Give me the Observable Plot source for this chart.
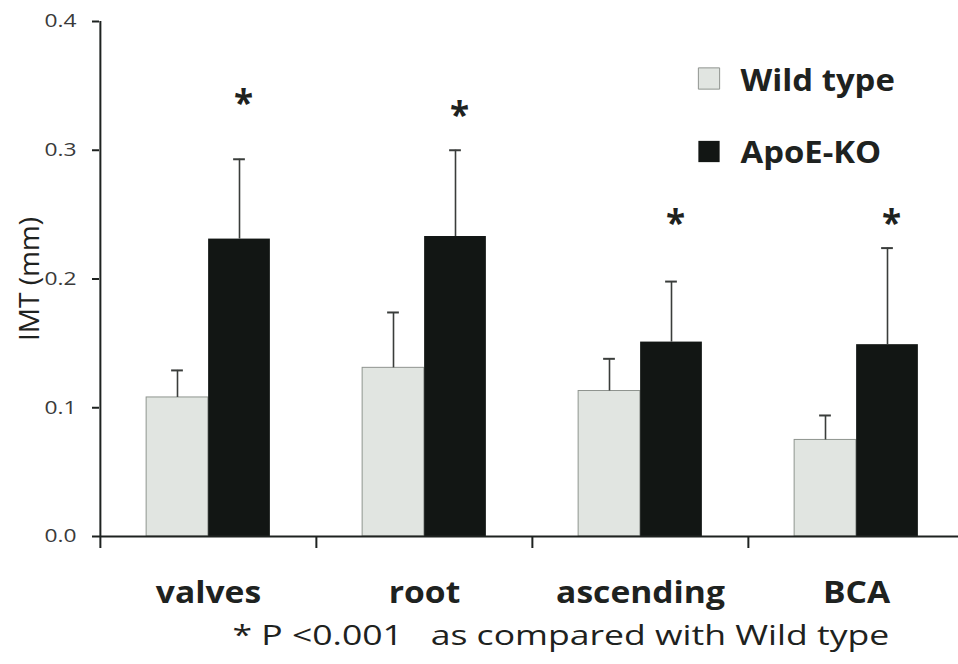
<!DOCTYPE html>
<html>
<head>
<meta charset="utf-8">
<script src="https://cdn.jsdelivr.net/npm/d3@7"></script>
<script src="https://cdn.jsdelivr.net/npm/@observablehq/plot@0.6"></script>
<style>
  html, body { margin: 0; padding: 0; background: #fff; }
  #chart { width: 958px; height: 664px; }
</style>
</head>
<body>
<div id="chart"></div>
<script>
// Intima-media thickness by aortic segment, mean + SD
const categories = ["valves", "root", "ascending", "BCA"];
const groups = ["Wild type", "ApoE-KO"];
const wildMean = [0.108, 0.131, 0.113, 0.075];
const wildSD   = [0.021, 0.043, 0.025, 0.019];
const koMean   = [0.231, 0.233, 0.151, 0.149];
const koSD     = [0.062, 0.067, 0.047, 0.075];
// height at which the significance asterisk sits, in mm
const starLevel = [0.343, 0.334, 0.250, 0.250];
const yTicks = [0, 0.1, 0.2, 0.3, 0.4];
const footnote = "* P <0.001   as compared with Wild type";

const wild = categories.map((c, i) => ({segment: c, mean: wildMean[i], sd: wildSD[i]}));
const ko = categories.map((c, i) => ({segment: c, mean: koMean[i], sd: koSD[i], star: starLevel[i]}));

const W = 958, H = 664;
const mL = 99, mR = -6;            // four bands of equal width, last one runs past the edge
const step = (W - mL - mR) / categories.length;
const half = step / 2;
const barW = 62, capW = 12;
const wildFill = "#e1e5e1", koFill = "#121614";
const ink = "#1e2220";
const labelFont = "'Open Sans', sans-serif";
const tickFmt = d3.format(".1f");

const chart = Plot.plot({
  width: W,
  height: H,
  marginLeft: mL,
  marginRight: mR,
  marginTop: 21,
  marginBottom: 128,
  style: {background: "#fff", overflow: "visible", fontFamily: labelFont},
  x: {domain: categories, padding: 0, axis: null},
  y: {domain: [0, 0.4], axis: null},
  marks: [
    // bars
    Plot.barY(wild, {x: "segment", y: "mean", fill: wildFill, stroke: "#8f948f", strokeWidth: 1,
      insetLeft: half - barW, insetRight: half}),
    Plot.barY(ko, {x: "segment", y: "mean", fill: koFill,
      insetLeft: half, insetRight: half - barW}),
    // error bars (upper half only)
    Plot.ruleX(wild, {x: "segment", y1: "mean", y2: d => d.mean + d.sd, dx: -barW / 2, stroke: "#3a3d3b", strokeWidth: 1.6}),
    Plot.tickY(wild, {x: "segment", y: d => d.mean + d.sd, stroke: "#3a3d3b", strokeWidth: 2,
      insetLeft: half - barW / 2 - capW / 2, insetRight: half + barW / 2 - capW / 2}),
    Plot.ruleX(ko, {x: "segment", y1: "mean", y2: d => d.mean + d.sd, dx: barW / 2, stroke: "#3a3d3b", strokeWidth: 1.6}),
    Plot.tickY(ko, {x: "segment", y: d => d.mean + d.sd, stroke: "#3a3d3b", strokeWidth: 2,
      insetLeft: half + barW / 2 - capW / 2, insetRight: half - barW / 2 - capW / 2}),
    // significance asterisks
    Plot.text(ko, {x: "segment", y: "star", text: () => "*", dx: barW / 2 + 4, dy: 9, lineAnchor: "middle",
      fontSize: 35, fontWeight: 700, fontFamily: labelFont, fill: ink}),
    // y axis: line, ticks, labels
    Plot.ruleX([categories[0]], {x: d => d, y1: 0.4, y2: 0, dx: -half, stroke: ink, strokeWidth: 2}),
    Plot.axisY({ticks: yTicks, tickFormat: () => "", tickSize: 7, stroke: ink, strokeWidth: 2, label: null}),
    Plot.text(yTicks, {y: d => d, text: tickFmt, frameAnchor: "left", textAnchor: "end", lineAnchor: "middle",
      dx: -23, fontSize: 18.5, fontFamily: labelFont, fill: "#3a3a3a"}),
    Plot.text(["IMT (mm)"], {frameAnchor: "left", rotate: -90, dx: -69, textAnchor: "middle", lineAnchor: "middle",
      fontSize: 28, fontFamily: labelFont, fill: ink}),
    // x axis: baseline, band boundary ticks, category labels
    Plot.ruleY([0], {stroke: ink, strokeWidth: 2}),
    Plot.axisX({tickSize: 12, tickFormat: () => "", dx: -half, stroke: ink, strokeWidth: 2, label: null}),
    Plot.axisX({tickSize: 0, tickPadding: 45, fontSize: 30, fontWeight: 700, fontFamily: labelFont,
      fill: ink, label: null}),
    Plot.text([footnote], {frameAnchor: "bottom-left", textAnchor: "start", lineAnchor: "middle", dx: 133, dy: 100,
      fontSize: 28, fontFamily: labelFont, fill: ink}),
    // legend
    Plot.dot([groups[0]], {frameAnchor: "top-left", dx: 609.5, dy: 57, symbol: "square", r: 12,
      fill: wildFill, stroke: "#8f948f", strokeWidth: 1}),
    Plot.text([groups[0]], {frameAnchor: "top-left", dx: 641, dy: 60, textAnchor: "start", lineAnchor: "middle",
      fontSize: 31, fontWeight: 700, fontFamily: labelFont, fill: ink}),
    Plot.dot([groups[1]], {frameAnchor: "top-left", dx: 609.5, dy: 130, symbol: "square", r: 12,
      fill: koFill}),
    Plot.text([groups[1]], {frameAnchor: "top-left", dx: 641, dy: 132, textAnchor: "start", lineAnchor: "middle",
      fontSize: 31, fontWeight: 700, fontFamily: labelFont, fill: ink})
  ]
});

document.getElementById("chart").append(chart);

// widen the lettering horizontally (the typeface runs broad in this figure)
function widen(strings, k) {
  d3.select(chart).selectAll("text")
    .filter(function () { return strings.includes(this.textContent); })
    .each(function () {
      const len = this.getComputedTextLength();
      d3.select(this).attr("textLength", len * k).attr("lengthAdjust", "spacingAndGlyphs");
    });
}
widen(categories, 1.12);
widen(groups, 1.06);
widen([footnote], 1.27);
widen(yTicks.map(tickFmt), 1.23);
</script>
</body>
</html>
